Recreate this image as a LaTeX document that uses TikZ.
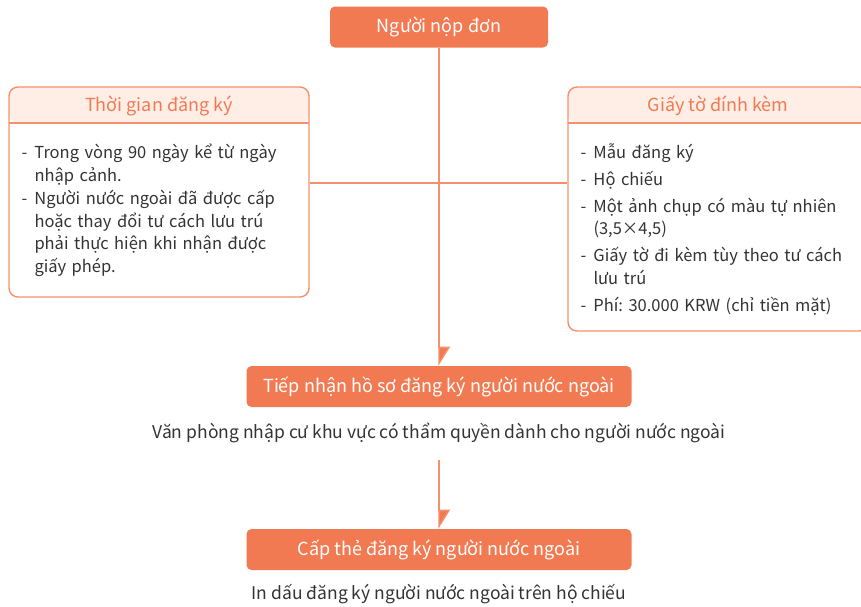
\documentclass[tikz,border=0pt]{standalone}
\usepackage{fontspec}
\setmainfont{Noto Sans CJK KR}
\usetikzlibrary{positioning,arrows.meta}

\definecolor{boxorange}{HTML}{F27A52}
\definecolor{lineorange}{HTML}{F4906C}
\definecolor{headfill}{HTML}{FEEEE6}
\definecolor{bodytext}{HTML}{333333}

% one dash line of a list, the rest hangs under the text
\newcommand\dashitem[1]{\noindent\hangindent=13pt\hangafter=1\makebox[13pt][l]{-}#1\par}

\tikzset{
  stepnode/.style={rectangle, rounded corners=5pt, fill=boxorange, text=white,
    font=\fontsize{18}{20}\selectfont, minimum height=41pt, inner sep=0pt},
  infobox/.style={rectangle, rounded corners=9pt, draw=lineorange, line width=1.4pt,
    minimum width=300pt, inner sep=0pt,
    path picture={
      \fill[headfill] (path picture bounding box.north west) rectangle ([yshift=-36pt]path picture bounding box.north east);
      \draw[lineorange, line width=1.4pt] ([yshift=-36pt]path picture bounding box.north west) -- ([yshift=-36pt]path picture bounding box.north east);
    }},
  headtext/.style={text=boxorange, font=\fontsize{18}{20}\selectfont},
  bodybox/.style={text width=280pt, text=bodytext, inner sep=0pt,
    font=\fontsize{16.5}{22.7}\selectfont,
    execute at begin node={\raggedright\frenchspacing\setlength{\parskip}{#1}}},
  bodybox/.default=4pt,
  caption/.style={text=bodytext, font=\fontsize{17.5}{20}\selectfont},
  link/.style={draw=lineorange, line width=1.3pt},
  arrowlink/.style={link, -{Triangle[harpoon, length=18pt, width=22pt, fill=boxorange]}},
}

\begin{document}
\begin{tikzpicture}[x=1pt,y=-1pt]
\useasboundingbox (0,0) rectangle (861,606);

\node[stepnode, minimum width=218pt] (applicant) at (439,27) {Người nộp đơn};

% left box
\node[infobox, minimum height=210pt] (timebox) at (159,192) {};
\node[headtext] (timehead) at ([yshift=-19.5pt]timebox.north) {Thời gian đăng ký};
\node[bodybox=0.5pt, anchor=north west] (timetext) at ([xshift=13pt,yshift=-57.5pt]timebox.north west) {%
  \dashitem{Trong vòng 90 ngày kể từ ngày\newline nhập cảnh.}
  \dashitem{Người nước ngoài đã được cấp\newline hoặc thay đổi tư cách lưu trú\newline phải thực hiện khi nhận được\newline giấy phép.}};

% right box
\node[infobox, minimum height=244pt] (docbox) at (718,209) {};
\node[headtext] (dochead) at ([yshift=-19.5pt]docbox.north) {Giấy tờ đính kèm};
\node[bodybox, anchor=north west] (doctext) at ([xshift=13pt,yshift=-57.5pt]docbox.north west) {%
  \dashitem{Mẫu đăng ký}
  \dashitem{Hộ chiếu}
  \dashitem{Một ảnh chụp có màu tự nhiên\newline (3,5×4,5)}
  \dashitem{Giấy tờ đi kèm tùy theo tư cách\newline lưu trú}
  \dashitem{Phí: 30.000 KRW (chỉ tiền mặt)}};

\node[stepnode, minimum width=385pt] (intake) at (439,386.5) {Tiếp nhận hồ sơ đăng ký người nước ngoài};
\node[caption] (office) at (439,433) {Văn phòng nhập cư khu vực có thẩm quyền dành cho người nước ngoài};
\coordinate (officeout) at (439,460);

\node[stepnode, minimum width=385pt] (issue) at (439,549.5) {Cấp thẻ đăng ký người nước ngoài};
\node[caption] (stamp) at (439,594) {In dấu đăng ký người nước ngoài trên hộ chiếu};

\coordinate (cross) at (439,183);
\draw[link] (timebox.east |- cross) -- (docbox.west |- cross);
\draw[arrowlink] (applicant.south) -- (intake.north);
\draw[arrowlink] (officeout) -- (issue.north);
\end{tikzpicture}
\end{document}
